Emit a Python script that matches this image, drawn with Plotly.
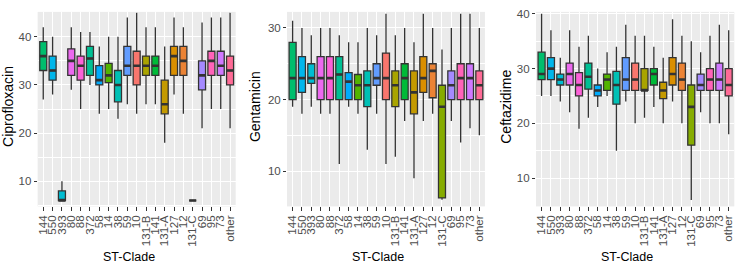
import math
import plotly.graph_objects as go

# ---------------- data ----------------
categories = ["144", "550", "393", "80", "88", "372", "58", "14", "38", "59", "10",
              "131-B", "141", "131-A", "127", "12", "131-C", "69", "95", "73", "other"]
color_levels = ["10", "12", "127", "131-A", "131-B", "131-C", "14", "141", "144", "372",
                "38", "393", "550", "58", "59", "69", "73", "80", "88", "95", "other"]

cip_hi  = [42, 40, 10, 42, 41, 41, 38, 40, 40, 44, 45, 42, 42, 38, 44, 42, 6, 43, 44, 44, 45]
cip_q3  = [39, 36, 8, 37.5, 36, 38, 34, 34.5, 33, 38, 37, 36, 36, 31, 38, 38, 6, 35, 37, 37, 36]
cip_med = [36, 33, 6, 35, 34, 35.5, 31, 32, 30, 34, 34, 34, 34, 26, 36, 35, 6, 32, 35, 34, 33]
cip_q1  = [33, 31, 6, 32, 31, 32, 30, 30.5, 26.5, 32, 30, 32, 32, 24, 32, 32, 6, 29, 32, 32, 30]
cip_lo  = [27, 28, 6, 29, 25, 30, 24, 25, 23, 26, 24, 26, 26, 18, 28, 24, 6, 21, 25, 25, 21]

gen_hi  = [31, 30, 29, 30, 30, 29, 28, 28, 30, 29, 32, 29, 30, 28, 32, 30, 27, 30, 32, 32, 30]
gen_q3  = [28, 26, 25, 26, 26, 26, 23.75, 23.5, 24, 25, 26.5, 24, 25, 24, 26, 25, 22, 24, 25, 25, 24]
gen_med = [23, 23, 23, 23, 23, 23.5, 22.5, 22, 22, 23, 23, 22, 23, 21, 23, 24, 19, 22, 23, 23, 22]
gen_q1  = [20, 21, 22.25, 20, 20, 20, 20, 20, 19, 22, 20, 19, 20, 18, 21, 20.25, 6.25, 20, 20, 20, 20]
gen_lo  = [19, 18, 19, 18, 18, 11, 19, 18, 13, 18, 11, 12, 17, 9, 17, 18, 6, 17, 14, 16, 15]

cef_hi  = [40, 37, 32, 37, 34, 36, 30, 33, 34, 38, 36, 36, 34, 32, 39, 36, 35, 33, 36, 38, 37]
cef_q3  = [33, 32, 29, 31, 29.25, 31, 27, 29, 29.5, 32, 31, 30, 30, 27.5, 32, 31, 27, 29, 30, 31, 30]
cef_med = [29, 30, 28, 29, 27, 28.5, 26, 28, 27, 28, 28, 26, 29, 26, 29, 28, 23, 27, 28, 28, 27]
cef_q1  = [28, 28, 27, 27, 25, 26.25, 25, 26, 23.5, 26, 26, 26, 27, 24.5, 27, 26, 16, 26, 26, 26, 25]
cef_lo  = [25, 25, 24, 22, 19, 21, 23, 25, 15, 24, 20, 21, 23, 20, 24, 20, 6, 22, 20, 20, 18]

y_titles = ["Ciprofloxacin", "Gentamicin", "Ceftazidime"]
x_title = "ST-Clade"


# ---------------- helpers ----------------
def hcl_hex(h, c=100.0, l=65.0):
    hr = math.radians(h)
    U, V = c * math.cos(hr), c * math.sin(hr)
    un, vn = 0.1978398, 0.4683363
    Y = 100.0 * (((l + 16) / 116) ** 3 if l > 8 else l / 903.3)
    u = U / (13 * l) + un
    v = V / (13 * l) + vn
    X = 9.0 * Y * u / (4 * v)
    Z = -X / 3 - 5 * Y + 3 * Y / v
    rgb = [(3.240479 * X - 1.537150 * Y - 0.498535 * Z) / 100,
           (-0.969256 * X + 1.875992 * Y + 0.041556 * Z) / 100,
           (0.055648 * X - 0.204043 * Y + 1.057311 * Z) / 100]
    out = []
    for t in rgb:
        t = 1.055 * t ** (1 / 2.4) - 0.055 if t > 0.00304 else 12.92 * t
        out.append(int(round(min(max(t, 0), 1) * 255)))
    return "#%02X%02X%02X" % tuple(out)


n_lev = len(color_levels)
color_map = {lev: hcl_hex(15 + 360.0 * i / n_lev) for i, lev in enumerate(color_levels)}

panels = [
    (cip_lo, cip_q1, cip_med, cip_q3, cip_hi, [4.78, 45.18]),
    (gen_lo, gen_q1, gen_med, gen_q3, gen_hi, [5.07, 32.25]),
    (cef_lo, cef_q1, cef_med, cef_q3, cef_hi, [4.82, 40.36]),
]

W, H = 735, 264
x_domains = [(36.7, 235.0), (286.4, 484.6), (535.7, 734.3)]
y_dom = [(H - 205.5) / H, (H - 8) / H]

FONT = "Liberation Sans"

fig = go.Figure()
layout = dict(
    width=W, height=H, margin=dict(l=0, r=0, t=0, b=0),
    paper_bgcolor="white", plot_bgcolor="#EBEBEB", showlegend=False,
    font=dict(family=FONT, color="#4D4D4D"),
)
annotations = []

for p, (lo, q1, med, q3, hi, yr) in enumerate(panels):
    sfx = "" if p == 0 else str(p + 1)
    xa, ya = "x" + sfx, "y" + sfx
    for i, cat in enumerate(categories):
        fig.add_trace(go.Box(
            x=[cat], lowerfence=[lo[i]], q1=[q1[i]], median=[med[i]], q3=[q3[i]],
            upperfence=[hi[i]], fillcolor=color_map[cat],
            line=dict(color="#333333", width=1.3), whiskerwidth=0, width=0.75,
            boxpoints=False, xaxis=xa, yaxis=ya, hoverinfo="skip", showlegend=False,
        ))
    fig.add_trace(go.Scatter(
        x=categories, y=med, mode="markers", xaxis=xa, yaxis=ya,
        marker=dict(symbol="line-ew", size=5, line=dict(width=2.6, color="#333333")),
        hoverinfo="skip", showlegend=False,
    ))
    x0, x1 = x_domains[p]
    layout["xaxis" + sfx] = dict(
        domain=[x0 / W, x1 / W], anchor=ya, type="category",
        categoryorder="array", categoryarray=categories, range=[-0.6, 20.6],
        tickmode="linear", tick0=0, dtick=1,
        showgrid=True, gridcolor="white", gridwidth=1, zeroline=False, showline=False,
        ticks="outside", ticklen=3.5, tickwidth=1, tickcolor="#333333", tickangle=-90,
        tickfont=dict(family=FONT, size=11.5, color="#4D4D4D"),
    )
    layout["yaxis" + sfx] = dict(
        domain=y_dom, anchor=xa, range=yr, tick0=0, dtick=10,
        showgrid=True, gridcolor="white", gridwidth=1.2, zeroline=False, showline=False,
        minor=dict(tick0=0, dtick=5, showgrid=True, gridcolor="white", gridwidth=0.6),
        ticks="outside", ticklen=3, tickwidth=1, tickcolor="#333333",
        tickfont=dict(family=FONT, size=11.5, color="#4D4D4D"),
    )
    annotations.append(dict(
        text=x_title, xref="paper", yref="paper", x=((x0 + x1) / 2 - 8) / W, y=(H - 257) / H,
        showarrow=False, xanchor="center", yanchor="middle",
        font=dict(family=FONT, size=12.5, color="black"),
    ))
    annotations.append(dict(
        text=y_titles[p], xref="paper", yref="paper", x=[7.5, 255, 506][p] / W, y=(H - 104) / H,
        showarrow=False, xanchor="center", yanchor="middle", textangle=-90,
        font=dict(family=FONT, size=14, color="black"),
    ))

layout["annotations"] = annotations
fig.update_layout(**layout)
fig.write_html("out.html")
